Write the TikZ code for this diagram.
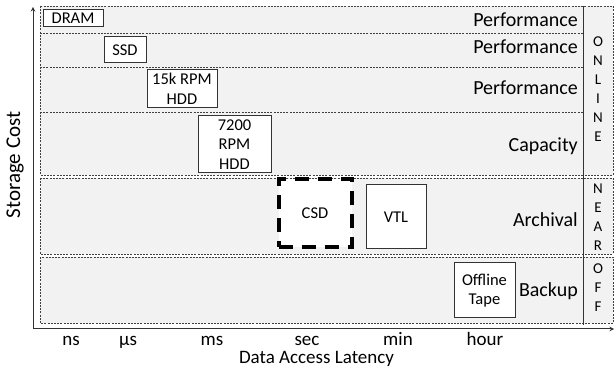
\documentclass[tikz,border=0pt]{standalone}
\usepackage{fontspec}
\setmainfont{Carlito}
\usepackage{tikz}

\begin{document}
\begin{tikzpicture}[
    x=1pt, y=-1pt,
    tier/.style={
        draw=black!75,
        fill=black!5,
        line width=0.8pt,
        dash pattern=on 2pt off 1.2pt
    },
    divider/.style={
        draw=black!75,
        line width=0.8pt,
        dash pattern=on 2pt off 1.2pt
    },
    device/.style={
        rectangle,
        draw=black!80,
        line width=1pt,
        fill=white,
        inner sep=0pt,
        align=center,
        font=\fontsize{16.5}{19.5}\selectfont
    },
    tierlabel/.style={
        anchor=base east,
        inner sep=0pt,
        font=\fontsize{20}{24}\selectfont
    },
    letters/.style={
        anchor=base,
        align=center,
        inner sep=0pt,
        font=\fontsize{15}{19}\selectfont
    },
    tick/.style={
        anchor=base,
        inner sep=0pt,
        font=\fontsize{19}{22}\selectfont
    },
    axis/.style={
        ->,
        line width=1pt,
        >=stealth,
        color=black!80
    }
]
\useasboundingbox (0,0) rectangle (616,371);

% Tiers
\path[tier] (40,6) rectangle (613,175);
\path[tier] (40,178) rectangle (613,254);
\path[tier] (40,257) rectangle (613,323);
\draw[divider] (40,33) -- (583,33);
\draw[divider] (40,67) -- (583,67);
\draw[divider] (40,112) -- (583,112);
\draw[line width=1pt, black!80] (583,6) -- (583,325);

% Tier names
\node[tierlabel] (perf1) at (578,27) {Performance};
\node[tierlabel] (perf2) at (578,54) {Performance};
\node[tierlabel] (perf3) at (578,95) {Performance};
\node[tierlabel] (capacity) at (578,152) {Capacity};
\node[tierlabel] (archival) at (578,227) {Archival};
\node[tierlabel] (backup) at (578,297) {Backup};

% Online / near / off (base = last line)
\node[letters] (online) at (598,142) {O\\N\\L\\I\\N\\E};
\node[letters] (near) at (598,251) {N\\E\\A\\R};
\node[letters] (off) at (598,312) {O\\F\\F};

% Devices
\node[device, minimum width=60, minimum height=17] (dram) at (73,18.5) {DRAM};
\node[device, minimum width=42, minimum height=26] (ssd) at (125,50) {SSD};
\node[device, minimum width=70, minimum height=38] (hdd15k) at (182,89) {15k RPM\\HDD};
\node[device, minimum width=73, minimum height=57] (hdd7200) at (234.5,144.5) {7200\\RPM\\HDD};
\node[device, draw=black, line width=4pt, dash pattern=on 14pt off 9pt,
      minimum width=73, minimum height=68] (csd) at (315,213.5) {CSD};
\node[device, minimum width=60, minimum height=64] (vtl) at (396,217) {VTL};
\node[device, minimum width=61, minimum height=55] (tape) at (484.5,290.5) {Offline\\Tape};

% Axes
\coordinate (origin) at (33,329);
\coordinate (xend) at (614,329);
\coordinate (yend) at (33,7);
\draw[axis] (origin) -- (xend);
\draw[axis] (origin) -- (yend);

% Latency ticks
\node[tick] (ns) at (71,345) {ns};
\node[tick] (us) at (128,345) {µs};
\node[tick] (ms) at (212,345) {ms};
\node[tick] (sec) at (307,345) {sec};
\node[tick] (min) at (398,345) {min};
\node[tick] (hour) at (485,345) {hour};
\node[tick] (xlabel) at (316.5,363) {Data Access Latency};
\node[rotate=90, inner sep=0pt, font=\fontsize{21}{24}\selectfont] (ylabel) at (15,165) {Storage Cost};

\end{tikzpicture}
\end{document}
